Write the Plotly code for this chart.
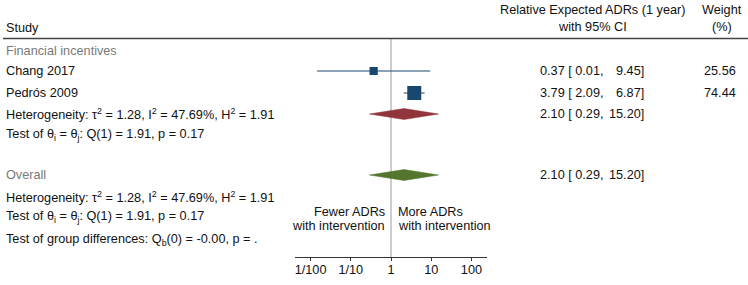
import plotly.graph_objects as go
import numpy as np

# ---- data ----
studies = ["Chang 2017", "Pedrós 2009"]
est = [0.37, 3.79]
lower = [0.0145, 2.09]
upper = [9.45, 6.87]
weights = [25.56, 74.44]

sub_est, sub_lo, sub_hi = 2.10, 0.29, 15.20
ov_est, ov_lo, ov_hi = 2.10, 0.29, 15.20

tick_vals = [0.01, 0.1, 1, 10, 100]
tick_text = ["1/100", "1/10", "1", "10", "100"]

het_text = "Heterogeneity: τ<sup>2</sup> = 1.28, I<sup>2</sup> = 47.69%, H<sup>2</sup> = 1.91"
test_text = "Test of θ<sub>i</sub> = θ<sub>j</sub>: Q(1) = 1.91, p = 0.17"
grp_text = "Test of group differences: Q<sub>b</sub>(0) = -0.00, p = ."

# ---- layout constants (pixel rows, y axis is in pixels from top) ----
W, H = 748, 285
FONT = "Liberation Sans, Arial, Helvetica, sans-serif"
FS = 12.7
BLUE, RED, GREEN = "#1a476f", "#90353b", "#55752f"
row_y = {"study_hdr": 28, "hline": 38.5, "group": 51, "s0": 71, "s1": 93,
         "het": 114, "test": 135, "overall": 175, "het2": 196.5, "test2": 217,
         "grp": 240, "axis": 257}
study_rows = [row_y["s0"], row_y["s1"]]

fig = go.Figure()

# CI lines
for e, lo, hi, yy in zip(est, lower, upper, study_rows):
    fig.add_trace(go.Scatter(x=[lo, hi], y=[yy, yy], mode="lines",
                             line=dict(color=BLUE, width=1.2), hoverinfo="skip"))
# squares
fig.add_trace(go.Scatter(x=est, y=study_rows, mode="markers",
                         marker=dict(symbol="square", color=BLUE, opacity=1,
                                     size=[1.62 * np.sqrt(w) for w in weights],
                                     line=dict(width=0)), hoverinfo="skip"))

def diamond(e, lo, hi, yy, color, h=5.5):
    fig.add_trace(go.Scatter(x=[lo, e, hi, e, lo], y=[yy, yy - h, yy, yy + h, yy],
                             mode="lines", fill="toself", fillcolor=color,
                             line=dict(color=color, width=0.5), hoverinfo="skip"))

diamond(sub_est, sub_lo, sub_hi, row_y["het"], RED)
diamond(ov_est, ov_lo, ov_hi, row_y["overall"], GREEN)

# lines
fig.add_shape(type="line", xref="x", yref="y", x0=1, x1=1, y0=row_y["hline"], y1=row_y["axis"],
              line=dict(color="#9a9a9a", width=1), layer="below")
fig.add_shape(type="line", xref="paper", yref="y", x0=3 / W, x1=1, y0=row_y["hline"], y1=row_y["hline"],
              line=dict(color="#444444", width=1.3))

def txt(x, y, s, anchor="left", color="#111111", size=FS):
    fig.add_annotation(x=x / W, y=y, xref="paper", yref="y", text=s, showarrow=False,
                       xanchor=anchor, yanchor="middle", font=dict(family=FONT, size=size, color=color))

# left column
txt(4, row_y["study_hdr"], "Study")
txt(4, row_y["group"], "Financial incentives", color="#7a7a7a")
for s, yy in zip(studies, study_rows):
    txt(4, yy, s)
txt(4, row_y["het"], het_text)
txt(4, row_y["test"], test_text)
txt(4, row_y["overall"], "Overall", color="#7a7a7a")
txt(4, row_y["het2"], het_text)
txt(4, row_y["test2"], test_text)
txt(4, row_y["grp"], grp_text)

# direction labels
txt(387, 212, "Fewer ADRs", anchor="right")
txt(387, 226, "with intervention", anchor="right")
txt(396, 212, "More ADRs")
txt(396, 226, "with intervention")

# right headers
txt(592, 10, "Relative Expected ADRs (1 year)", anchor="center")
txt(592, 27, "with 95% CI", anchor="center")
txt(722, 10, "Weight", anchor="center")
txt(722, 27, "(%)", anchor="center")

# values
for e, lo, hi, yy, w in zip(est, lower, upper, study_rows, weights):
    txt(538, yy, f"{e:.2f} [ {lo:.2f},")
    txt(646, yy, f"{hi:.2f}]", anchor="right")
    txt(738, yy, f"{w:.2f}", anchor="right")
for e, lo, hi, yy in [(sub_est, sub_lo, sub_hi, row_y["het"]), (ov_est, ov_lo, ov_hi, row_y["overall"])]:
    txt(538, yy, f"{e:.2f} [ {lo:.2f},")
    txt(646, yy, f"{hi:.2f}]", anchor="right")

x0, x1 = 295, 487.3
center, dec = 391, 40.2
fig.update_layout(
    width=W, height=H, margin=dict(l=0, r=0, t=0, b=0),
    plot_bgcolor="white", paper_bgcolor="white", showlegend=False,
    xaxis=dict(type="log", domain=[x0 / W, x1 / W],
               range=[(x0 - center) / dec, (x1 - center) / dec],
               anchor="free", position=(H - row_y["axis"]) / H,
               showline=True, linecolor="#333333", linewidth=1,
               ticks="outside", ticklen=3, tickcolor="#333333", ticklabelstandoff=-2,
               tickvals=tick_vals, ticktext=tick_text, showgrid=False, zeroline=False,
               tickfont=dict(family=FONT, size=FS, color="#111111")),
    yaxis=dict(range=[H, 0], domain=[0, 1], visible=False, showgrid=False, zeroline=False),
)

fig.write_html("out.html", config={"displayModeBar": False},
               post_script="document.body.style.margin='0';document.body.style.overflow='hidden';")
